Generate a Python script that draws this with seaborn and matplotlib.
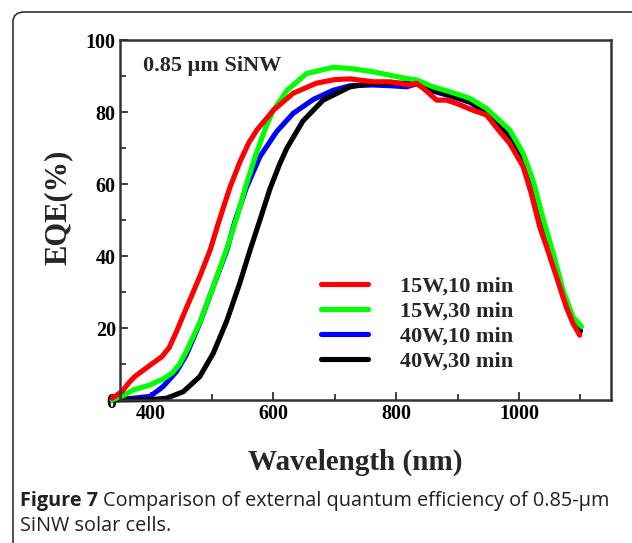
import numpy as np
import pandas as pd
import matplotlib
matplotlib.use('Agg')
import matplotlib.pyplot as plt
from matplotlib.patches import FancyBboxPatch
from matplotlib.ticker import MultipleLocator
import seaborn as sns

# --- data (wavelength nm, EQE %) ---
red_nm = [337, 353, 364, 374, 396, 418, 430, 442, 458, 480, 497, 510, 529, 545, 560, 573, 600, 632,
          670, 700, 725, 762, 790, 822, 833, 844, 866, 882, 898, 925, 947, 969, 985, 1007,
          1020, 1034, 1045, 1061, 1077, 1088, 1099]
red_eqe = [0.5, 2.3, 4.7, 6.5, 9.3, 12, 14.5, 19, 25.5, 34.3, 41.7, 49, 59, 66, 71.5, 75, 80.5, 85.2,
           88, 89, 89.2, 88.4, 88.4, 87.5, 88, 86.6, 83.3, 83.3, 82.4, 80.5, 79.2, 74.5, 71.3, 64.8,
           57.4, 48, 42.6, 34.3, 25.9, 21.3, 18]

green_nm = [337, 355, 372, 399, 420, 435, 447, 458, 480, 502, 524, 540, 556, 573, 587, 600, 622, 654,
            697, 725, 762, 790, 817, 833, 860, 888, 920, 947, 985, 1007, 1023, 1040, 1056, 1072,
            1088, 1102]
green_eqe = [0, 1.2, 2.8, 4.2, 5.8, 7.5, 10, 13.5, 21.5, 31.5, 42, 50.5, 60, 69, 75.5, 80.5, 86, 90.7,
             92.4, 92.1, 91.2, 90.2, 89.3, 88.9, 87, 85.6, 83.8, 81, 75, 68.5, 61, 50, 40.7, 30.5,
             23.1, 20.4]

blue_nm = [337, 372, 399, 420, 442, 458, 480, 502, 524, 537, 556, 578, 605, 632, 665, 697, 725,
           762, 790, 817, 833, 860, 887, 920, 947, 985, 1007, 1023, 1040, 1056, 1072, 1088, 1100]
blue_eqe = [0, 0.5, 1, 3.7, 7.9, 12.5, 21.3, 31.5, 41.5, 49.5, 59, 67.6, 74.5, 79.6, 83.5, 86, 87.3,
            87.5, 87.3, 87, 87.8, 85.8, 84.5, 82.7, 79.8, 72.8, 65.8, 58, 47, 38, 29, 22.3, 19.5]

black_nm = [337, 400, 426, 453, 480, 502, 524, 545, 562, 578, 594, 610, 622, 648, 681, 725, 762, 816,
            833, 860, 887, 920, 947, 985, 1007, 1023, 1040, 1056, 1072, 1088, 1100]
black_eqe = [0, 0.1, 0.5, 2.3, 6.5, 13, 22, 32.4, 41.7, 50, 58.5, 65.5, 70, 77.5, 83.3, 87, 88, 88,
             88, 86, 84.7, 82.9, 80, 73, 66, 58.3, 47.2, 38, 29, 22, 19]

labels = ['15W,10 min', '15W,30 min', '40W,10 min', '40W,30 min']
colors = ['#ff0000', '#00ff00', '#0000ff', '#000000']

sns.set_theme(style='ticks')
plt.rcParams['font.family'] = ['Liberation Serif', 'DejaVu Serif']

fig = plt.figure(figsize=(6.32, 5.43), dpi=100)
ax = fig.add_axes([120 / 632, 1 - 400 / 543, 491 / 632, 360 / 543])

series = [(blue_nm, blue_eqe, 2), (black_nm, black_eqe, 3),
          (green_nm, green_eqe, 1), (red_nm, red_eqe, 0)]
handles = {}
for nm, eqe, idx in series:
    df = pd.DataFrame({'nm': nm, 'eqe': eqe})
    sns.lineplot(data=df, x='nm', y='eqe', color=colors[idx], lw=3.7, ax=ax,
                 label=labels[idx], legend=False)
    line = ax.lines[-1]
    line.set_clip_on(False)
    line.set_solid_capstyle('round')
    line.set_solid_joinstyle('round')
    handles[idx] = line

ax.set_xlim(350, 1150)
ax.set_ylim(0, 100)
ax.xaxis.set_major_locator(MultipleLocator(200))
ax.xaxis.set_minor_locator(MultipleLocator(100))
ax.yaxis.set_major_locator(MultipleLocator(20))
ax.yaxis.set_minor_locator(MultipleLocator(10))
ax.tick_params(which='both', direction='in', colors='#333333', width=1.3,
               labelsize=14.5, pad=3, top=False, right=False)
ax.tick_params(which='major', length=6)
ax.tick_params(which='minor', length=4)
for lab in ax.get_xticklabels() + ax.get_yticklabels():
    lab.set_fontweight('bold')
    lab.set_color('black')
for sp in ax.spines.values():
    sp.set_color('#333333')
    sp.set_linewidth(1.8)

ax.set_xlabel('Wavelength (nm)', fontsize=21, fontweight='bold')
ax.xaxis.set_label_coords(0.479, -0.135)
ax.set_ylabel('EQE(%)', fontsize=22, fontweight='bold')
ax.yaxis.set_label_coords(-0.097, 0.535)

ax.text(0.047, 0.914, '0.85 μm SiNW', transform=ax.transAxes, fontsize=16,
        fontweight='bold', va='baseline', ha='left')

leg = ax.legend([handles[i] for i in range(4)], labels, loc='upper left',
                bbox_to_anchor=(0.41, 0.345), frameon=False,
                handlelength=2.1, handletextpad=1.45, labelspacing=0.2,
                borderpad=0, borderaxespad=0, prop={'weight': 'bold', 'size': 16})

# outer rounded frame (right and bottom run off the page)
frame = FancyBboxPatch((13 / 632, -0.1), 1.2, 1 - 12 / 543 + 0.1,
                       boxstyle='round,pad=0,rounding_size=0.018',
                       transform=fig.transFigure, fill=False, lw=1.2,
                       edgecolor='#333333', clip_on=False)
fig.patches.append(frame)

cap_kw = dict(family=['Open Sans', 'DejaVu Sans'], fontsize=14.3, color='#231f20',
              ha='left', va='baseline')
t1 = fig.text(20 / 632, 1 - 506 / 543, 'Figure 7', fontweight='bold', **cap_kw)
fig.canvas.draw()
bb = t1.get_window_extent()
fig.text(bb.x1 / 632 + 5 / 632, 1 - 506 / 543,
         'Comparison of external quantum efficiency of 0.85-μm', **cap_kw)
fig.text(20 / 632, 1 - 531 / 543, 'SiNW solar cells.', **cap_kw)

fig.savefig('out.png', dpi=100)
